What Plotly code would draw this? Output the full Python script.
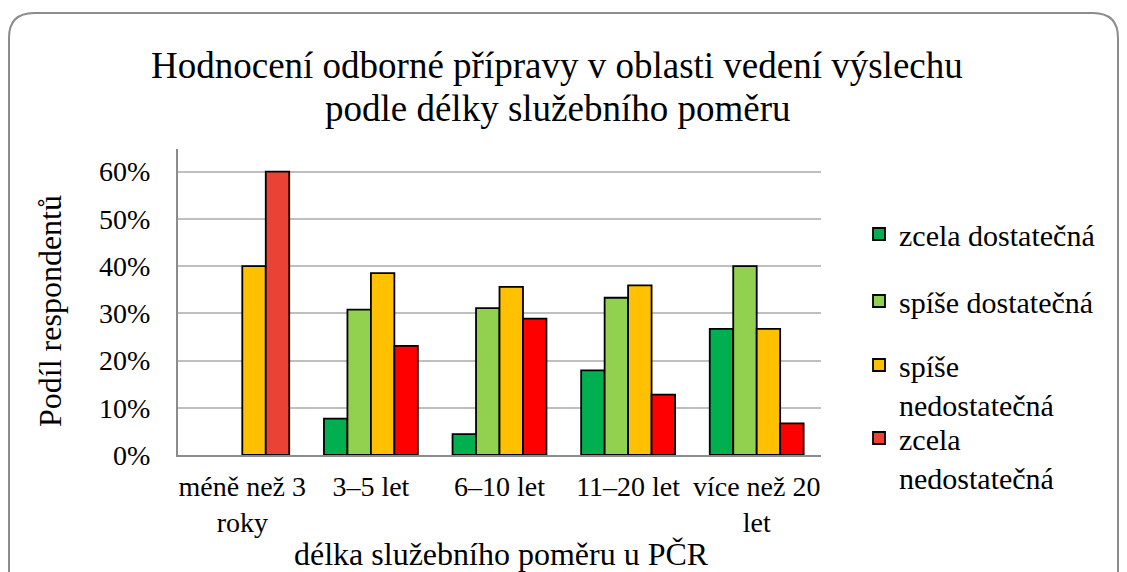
import plotly.graph_objects as go

# Data
categories = ["méně než 3<br>roky", "3–5 let", "6–10 let", "11–20 let", "více než 20<br>let"]
zcela_dost = [0, 0.077, 0.044, 0.179, 0.267]
spise_dost = [0, 0.308, 0.311, 0.333, 0.400]
spise_nedost = [0.400, 0.385, 0.356, 0.359, 0.267]
zcela_nedost = [0.600, 0.231, 0.289, 0.128, 0.067]
series_names = ["zcela dostatečná", "spíše dostatečná", "spíše<br>nedostatečná", "zcela<br>nedostatečná"]
y_ticks = [0, 0.1, 0.2, 0.3, 0.4, 0.5, 0.6]

FONT = "Liberation Serif"
# the page body has an 8px margin, so everything is laid out in page pixels minus OFF
OFF = 8
W, H = 1127 - OFF, 572 - OFF
# plot area in page pixels
L, R, T, B = 178, 821, 149, 455


def px_x(p):
    return (p - L) / (R - L)


def px_y(p):
    return (B - p) / (B - T)


colors = ["#00B050", "#92D050", "#FFC000", ["#EA4335", "#FF0000", "#FF0000", "#FF0000", "#FF0000"]]
values = [zcela_dost, spise_dost, spise_nedost, zcela_nedost]
legend_tops = [208, 275, 339, 412]

fig = go.Figure()
for i, (name, vals, col) in enumerate(zip(series_names, values, colors)):
    fig.add_trace(go.Bar(
        x = categories,
        # zero shares are not drawn at all (no flat outline on the axis), like in Excel
        y = [v if v else None for v in vals],
        name = name,
        marker = dict(color = col, line = dict(color = "black", width = 1.8)),
        legend = "legend" if i == 0 else f"legend{i + 1}",
        hovertemplate = "%{y:.1%}<extra></extra>",
    ))

# one legend per item so the spacing can follow the original
leg_common = dict(
    x = px_x(859), xanchor = "left", yanchor = "top",
    font = dict(family = FONT, size = 30, color = "black"),
    bgcolor = "rgba(0,0,0,0)", valign = "top",
    itemwidth = 30,
)

fig.update_layout(
    width = W, height = H,
    margin = dict(l = L - OFF, r = W - (R - OFF), t = T - OFF, b = H - (B - OFF)),
    paper_bgcolor = "white", plot_bgcolor = "white",
    font = dict(family = FONT, color = "black"),
    barmode = "group",
    bargap = 0.27,
    bargroupgap = 0,
    showlegend = True,
    legend = dict(leg_common, y = px_y(legend_tops[0])),
    legend2 = dict(leg_common, y = px_y(legend_tops[1])),
    legend3 = dict(leg_common, y = px_y(legend_tops[2])),
    legend4 = dict(leg_common, y = px_y(legend_tops[3])),
)

fig.update_yaxes(
    range = [0, 0.648],
    tickvals = y_ticks,
    tickformat = ".0%",
    tickfont = dict(family = FONT, size = 28, color = "black"),
    ticklabelstandoff = 20,
    showgrid = True, gridcolor = "#BFBFBF", gridwidth = 2,
    showline = True, linecolor = "#8C8C8C", linewidth = 2,
    zeroline = False,
    fixedrange = True,
)
fig.update_xaxes(
    tickfont = dict(family = FONT, size = 28, color = "black"),
    ticklabelstandoff = 5,
    showline = True, linecolor = "#8C8C8C", linewidth = 2,
    fixedrange = True,
)

# Title lines, axis titles
fig.add_annotation(x = px_x(557), y = px_y(65), xref = "paper", yref = "paper",
                   text = "Hodnocení odborné přípravy v oblasti vedení výslechu",
                   showarrow = False, font = dict(family = FONT, size = 37, color = "black"),
                   xanchor = "center", yanchor = "middle")
fig.add_annotation(x = px_x(557), y = px_y(108), xref = "paper", yref = "paper",
                   text = "podle délky služebního poměru",
                   showarrow = False, font = dict(family = FONT, size = 37, color = "black"),
                   xanchor = "center", yanchor = "middle")
fig.add_annotation(x = px_x(50), y = px_y(311), xref = "paper", yref = "paper",
                   text = "Podíl respondentů", textangle = -90,
                   showarrow = False, font = dict(family = FONT, size = 32, color = "black"),
                   xanchor = "center", yanchor = "middle")
fig.add_annotation(x = px_x(501), y = px_y(554), xref = "paper", yref = "paper",
                   text = "délka služebního poměru u PČR",
                   showarrow = False, font = dict(family = FONT, size = 32, color = "black"),
                   xanchor = "center", yanchor = "middle")

# Rounded chart border
x0, x1, y0, y1, r = 9, 1118, 13, 640, 25
path = (f"M {px_x(x0)},{px_y(y1)} L {px_x(x0)},{px_y(y0 + r)} "
        f"Q {px_x(x0)},{px_y(y0)} {px_x(x0 + r)},{px_y(y0)} "
        f"L {px_x(x1 - r)},{px_y(y0)} "
        f"Q {px_x(x1)},{px_y(y0)} {px_x(x1)},{px_y(y0 + r)} "
        f"L {px_x(x1)},{px_y(y1)}")
fig.add_shape(type = "path", path = path, xref = "paper", yref = "paper",
              line = dict(color = "#8C8C8C", width = 2), layer = "below")

fig.write_html("out.html")
